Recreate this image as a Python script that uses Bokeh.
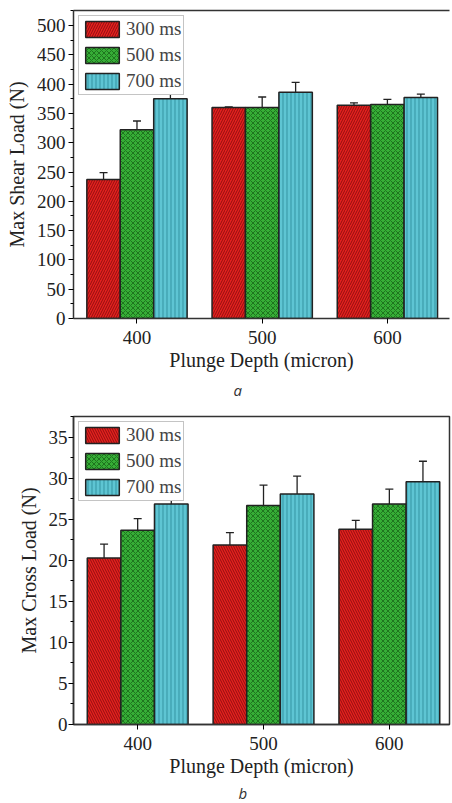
from bokeh.plotting import figure
from bokeh.models import (ColumnDataSource, Range1d, FixedTicker, LinearAxis, Whisker, TeeHead,
                          Title, Legend)
from bokeh.transform import dodge
from bokeh.layouts import column
from bokeh.embed import file_html
from bokeh.resources import INLINE

# ---------------- data ----------------
depths = [400, 500, 600]
series = ["300 ms", "500 ms", "700 ms"]

shear_300 = [237, 360, 364]
shear_300_err = [12, 1, 4]
shear_500 = [322, 360, 365]
shear_500_err = [15, 18, 9]
shear_700 = [375, 386, 377]
shear_700_err = [10, 17, 6]

cross_300 = [20.3, 21.9, 23.8]
cross_300_err = [1.7, 1.5, 1.1]
cross_500 = [23.7, 26.7, 26.9]
cross_500_err = [1.4, 2.5, 1.8]
cross_700 = [26.9, 28.1, 29.6]
cross_700_err = [1.4, 2.2, 2.5]

shear_ticks = [0, 50, 100, 150, 200, 250, 300, 350, 400, 450, 500]
cross_ticks = [0, 5, 10, 15, 20, 25, 30, 35]

# ---------------- styles ----------------
SERIF = "Liberation Serif"
BAR_W = 26.7
OFFSETS = [-BAR_W, 0, BAR_W]
FILLS = ["#e3211f", "#36ad36", "#5ec5d3"]
HATCH_COLORS = ["#8a0c0c", "#1c6e1c", "#2f8f9c"]


def make_chart(vals, errs, ticks, ymax, ylabel, caption, red_hatch,
               height, border_top, border_left, border_right, xr, cap_offset, cap_standoff,
               ylab_standoff, top_line):
    p = figure(width=452, height=height, output_backend="svg", toolbar_location=None,
               x_range=Range1d(*xr), y_range=Range1d(0, ymax),
               min_border_top=border_top, min_border_left=border_left,
               min_border_right=border_right, min_border_bottom=0)
    p.xgrid.visible = False
    p.ygrid.visible = False
    p.background_fill_color = "white"
    p.border_fill_color = "white"

    hatches = [red_hatch, "x", "|"]
    scales = [5, 5, 4]
    items = []
    for i, name in enumerate(series):
        src = ColumnDataSource(dict(depth=depths, val=vals[i],
                                    upper=[v + e for v, e in zip(vals[i], errs[i])],
                                    lower=[v - e for v, e in zip(vals[i], errs[i])]))
        r = p.vbar(x=dodge("depth", OFFSETS[i]), top="val", width=BAR_W, source=src,
                   fill_color=FILLS[i], line_color="#222222", line_width=1.5,
                   hatch_pattern=hatches[i], hatch_color=HATCH_COLORS[i],
                   hatch_scale=scales[i], hatch_weight=1, hatch_alpha=0.9)
        items.append((name, [r]))
        w = Whisker(base=dodge("depth", OFFSETS[i]), upper="upper", lower="lower", source=src,
                    line_color="#222222", line_width=1.3,
                    upper_head=TeeHead(size=8, line_color="#222222", line_width=1.3),
                    lower_head=TeeHead(size=8, line_color="#222222", line_width=1.3))
        p.add_layout(w)

    leg = Legend(items=items, location="top_left", margin=5, padding=2, spacing=4,
                 glyph_width=42, glyph_height=20, label_height=20, label_standoff=3,
                 label_text_font=SERIF, label_text_font_size="19px",
                 border_line_color="#8a8a8a", border_line_width=1,
                 background_fill_color="white", background_fill_alpha=1.0)
    p.add_layout(leg)

    # x axis (bottom)
    xa = p.below[0]
    xa.ticker = FixedTicker(ticks=depths)
    xa.minor_tick_line_color = None
    xa.major_tick_in = 0
    xa.major_tick_out = 5
    xa.major_label_standoff = 7
    xa.major_label_text_font = SERIF
    xa.major_label_text_font_size = "19px"
    xa.major_label_text_color = "#222222"
    xa.axis_label = "Plunge Depth (micron)"
    xa.axis_label_text_font = SERIF
    xa.axis_label_text_font_size = "20px"
    xa.axis_label_text_font_style = "normal"
    xa.axis_label_text_color = "#222222"
    xa.axis_label_standoff = 2
    xa.axis_line_width = 1.5
    xa.axis_line_color = "#333333"

    # y axis
    ya = p.left[0]
    ya.ticker = FixedTicker(ticks=ticks,
                            minor_ticks=[(a + b) / 2 for a, b in zip(ticks[:-1], ticks[1:])]
                            + [ticks[-1] + (ticks[1] - ticks[0]) / 2])
    ya.major_tick_in = 0
    ya.major_tick_out = 5
    ya.minor_tick_in = 0
    ya.minor_tick_out = 3
    ya.major_label_standoff = ylab_standoff
    ya.major_label_text_font = SERIF
    ya.major_label_text_font_size = "19px"
    ya.major_label_text_color = "#222222"
    ya.axis_label = ylabel
    ya.axis_label_text_font = SERIF
    ya.axis_label_text_font_size = "20px"
    ya.axis_label_text_font_style = "normal"
    ya.axis_label_text_color = "#222222"
    ya.axis_label_standoff = 6
    ya.axis_line_width = 1.5
    ya.axis_line_color = "#333333"

    if top_line:
        p.outline_line_color = None
        ax_top = LinearAxis(ticker=FixedTicker(ticks=[]), major_label_text_font_size="0px",
                            axis_line_color="#333333", axis_line_width=1.5,
                            major_tick_line_color=None, minor_tick_line_color=None,
                            major_label_standoff=0, axis_label=None)
        p.add_layout(ax_top, "above")
    else:
        p.outline_line_color = "#333333"
        p.outline_line_width = 1.5

    cap = Title(text=caption, align="left", offset=cap_offset, text_font="Open Sans",
                text_font_style="italic", text_font_size="15px", text_color="#333333",
                standoff=cap_standoff)
    p.add_layout(cap, "below")
    return p


p1 = make_chart([shear_300, shear_500, shear_700],
                [shear_300_err, shear_500_err, shear_700_err],
                shear_ticks, 525.6, "Max Shear Load (N)", "a", "/",
                height=403, border_top=10, border_left=73, border_right=0,
                xr=(349.3, 649.6), cap_offset=160, cap_standoff=8, ylab_standoff=3,
                top_line=True)

p2 = make_chart([cross_300, cross_500, cross_700],
                [cross_300_err, cross_500_err, cross_700_err],
                cross_ticks, 37.56, "Max Cross Load (N)", "b", "\\",
                height=400, border_top=13, border_left=68, border_right=3,
                xr=(349.0, 647.8), cap_offset=165, cap_standoff=2, ylab_standoff=1,
                top_line=False)

layout = column(p1, p2, spacing=0)
open("out.html", "w").write(file_html(layout, INLINE))
